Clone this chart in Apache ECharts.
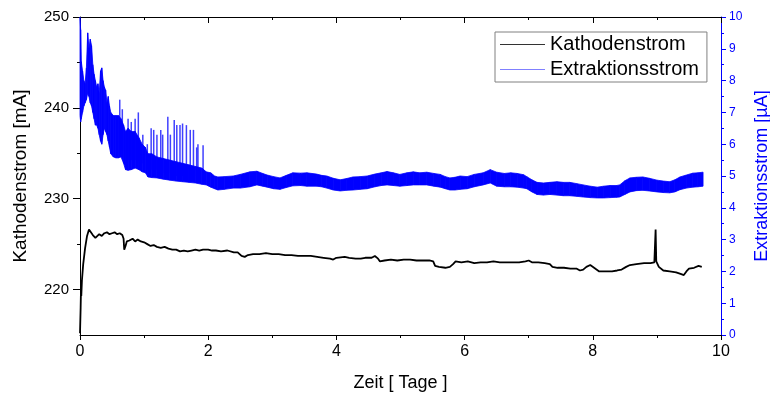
<!DOCTYPE html>
<html>
<head>
<meta charset="utf-8">
<script src="https://cdn.jsdelivr.net/npm/echarts@6/dist/echarts.min.js"></script>
<style>html,body{margin:0;padding:0;background:#fff}#c{width:770px;height:398px}</style>
</head>
<body>
<div id="c"></div>
<script>
// ---- data ----
const xTicks = [0, 2, 4, 6, 8, 10];
const leftTicks = [220, 230, 240, 250];
const leftMinorTicks = [225, 235, 245];

// Kathodenstrom [mA] vs. Zeit [Tage]
const cathT = [0.00,0.01,0.015,0.02,0.03,0.05,0.08,0.11,0.14,0.17,0.20,0.24,0.27,0.30,0.34,0.38,0.42,0.46,0.50,0.54,0.58,0.62,0.66,0.68,0.69,0.71,0.73,0.77,0.82,0.86,0.90,0.95,1.00,1.05,1.10,1.15,1.20,1.26,1.32,1.38,1.44,1.50,1.56,1.62,1.68,1.74,1.80,1.86,1.92,2.00,2.06,2.12,2.20,2.30,2.40,2.46,2.52,2.57,2.62,2.70,2.80,2.90,3.00,3.10,3.20,3.30,3.40,3.50,3.60,3.70,3.80,3.90,3.95,4.00,4.13,4.20,4.30,4.38,4.45,4.55,4.60,4.65,4.68,4.75,4.85,4.95,5.05,5.15,5.25,5.35,5.45,5.51,5.54,5.60,5.70,5.77,5.82,5.86,5.95,6.05,6.15,6.25,6.35,6.45,6.55,6.65,6.75,6.85,6.95,7.00,7.05,7.15,7.25,7.33,7.37,7.45,7.55,7.65,7.75,7.80,7.85,7.90,7.96,8.02,8.10,8.20,8.30,8.38,8.45,8.52,8.58,8.68,8.80,8.90,8.96,8.98,8.99,9.03,9.10,9.20,9.30,9.38,9.42,9.46,9.50,9.58,9.65,9.70];
const cathI = [215.2,218.0,219.8,219.3,221.0,222.8,224.6,225.9,226.6,226.4,226.0,225.7,225.9,226.1,225.9,226.2,226.3,226.1,226.2,226.3,226.1,226.2,226.0,225.6,224.4,224.8,225.3,225.4,225.6,225.3,225.5,225.3,225.2,225.0,224.8,224.9,224.7,224.6,224.7,224.5,224.4,224.4,224.2,224.3,224.2,224.3,224.4,224.3,224.4,224.4,224.3,224.3,224.2,224.3,224.1,224.1,223.7,223.6,223.8,223.9,223.9,224.0,223.9,223.9,223.8,223.8,223.7,223.7,223.7,223.6,223.5,223.4,223.3,223.5,223.6,223.5,223.4,223.4,223.5,223.5,223.7,223.4,223.1,223.2,223.3,223.2,223.3,223.3,223.2,223.2,223.2,223.1,222.6,222.5,222.4,222.5,222.8,223.1,223.0,223.1,222.9,223.0,223.0,223.1,223.0,223.0,223.0,223.0,223.1,223.2,223.0,223.0,222.9,222.8,222.5,222.4,222.4,222.3,222.3,222.1,222.2,222.5,222.7,222.4,222.0,222.0,222.0,222.1,222.2,222.5,222.7,222.8,222.9,222.9,223.0,226.6,223.1,222.5,222.1,222.0,221.9,221.7,221.6,222.0,222.3,222.4,222.6,222.5];

// Extraktionsstrom [µA]: noisy band, upper and lower envelope
const extT  = [0.00,0.01,0.02,0.04,0.06,0.08,0.10,0.12,0.14,0.16,0.18,0.20,0.22,0.24,0.26,0.28,0.30,0.32,0.34,0.36,0.38,0.40,0.42,0.44,0.46,0.48,0.52,0.56,0.60,0.64,0.68,0.71,0.75,0.80,0.86,0.92,0.97,1.02,1.06,1.12,1.20,1.30,1.40,1.50,1.60,1.70,1.80,1.90,1.97,2.04,2.10,2.15,2.25,2.39,2.50,2.65,2.76,2.85,2.92,3.02,3.12,3.22,3.32,3.44,3.54,3.69,3.77,3.85,3.95,4.06,4.16,4.26,4.37,4.48,4.60,4.70,4.79,4.89,4.99,5.10,5.20,5.30,5.41,5.52,5.62,5.70,5.77,5.85,5.93,6.04,6.15,6.29,6.40,6.50,6.62,6.72,6.82,6.92,6.97,7.05,7.13,7.23,7.33,7.44,7.54,7.64,7.75,7.85,7.96,8.07,8.17,8.27,8.37,8.42,8.50,8.58,8.68,8.78,8.88,9.00,9.10,9.20,9.28,9.36,9.46,9.56,9.64,9.72];
const extHi = [10.0,9.6,8.6,8.3,8.0,7.9,8.4,9.5,9.0,9.3,9.1,8.5,8.2,8.0,7.8,7.9,7.6,8.3,8.4,8.0,7.8,7.7,7.3,7.5,7.2,7.0,6.9,6.9,6.9,6.8,6.6,6.4,6.5,6.4,6.4,6.2,6.0,5.9,5.7,5.7,5.6,5.55,5.5,5.45,5.4,5.35,5.3,5.25,5.13,5.1,5.0,4.97,4.98,5.0,5.05,5.13,5.15,5.08,5.03,4.98,4.94,5.02,5.1,5.09,5.1,5.06,5.02,5.0,4.93,4.88,4.92,4.97,4.98,5.0,5.06,5.1,5.14,5.1,5.05,5.1,5.13,5.1,5.12,5.08,5.05,4.98,4.94,4.96,5.0,4.98,5.05,5.1,5.2,5.12,5.08,5.1,5.08,5.04,4.98,4.88,4.8,4.78,4.8,4.82,4.8,4.8,4.76,4.72,4.68,4.65,4.68,4.7,4.7,4.72,4.85,4.94,4.96,4.97,4.93,4.87,4.84,4.82,4.88,4.97,5.03,5.09,5.1,5.12];
const extLo = [6.9,6.7,6.8,7.0,7.2,7.3,7.4,7.6,7.5,7.3,7.2,7.0,6.8,6.6,6.6,6.5,6.3,6.1,6.0,6.3,6.5,6.4,6.3,6.1,5.9,5.7,5.6,5.57,5.57,5.6,5.4,5.2,5.18,5.2,5.25,5.2,5.13,5.1,4.97,4.95,4.94,4.9,4.87,4.84,4.82,4.8,4.78,4.74,4.72,4.65,4.6,4.56,4.58,4.62,4.62,4.66,4.72,4.68,4.65,4.6,4.58,4.64,4.69,4.7,4.68,4.68,4.66,4.62,4.56,4.53,4.55,4.56,4.58,4.6,4.66,4.7,4.72,4.7,4.68,4.7,4.72,4.72,4.72,4.68,4.65,4.6,4.56,4.56,4.58,4.6,4.66,4.72,4.78,4.68,4.66,4.66,4.65,4.62,4.6,4.5,4.42,4.4,4.42,4.4,4.38,4.38,4.36,4.34,4.32,4.31,4.31,4.32,4.33,4.34,4.42,4.5,4.54,4.55,4.53,4.5,4.48,4.47,4.5,4.57,4.62,4.65,4.66,4.68];

// Extraktionsstrom spikes (time, bottom, top)
const spikeT   = [0.62,0.66,0.75,0.80,0.86,0.91,0.98,1.05,1.11,1.15,1.20,1.26,1.29,1.37,1.41,1.47,1.51,1.56,1.60,1.66,1.72,1.77,1.82,1.84,1.92];
const spikeLo  = [5.8,5.8,5.5,5.5,5.5,5.5,5.4,5.2,5.2,5.2,5.2,5.1,5.1,5.1,5.1,5.1,5.0,5.0,5.0,5.0,5.0,5.0,5.0,5.0,5.0];
const spikeTop = [7.4,7.1,6.8,6.7,6.8,7.0,6.3,6.0,6.5,6.45,6.3,6.45,6.3,6.86,6.3,6.76,6.6,6.6,6.65,6.6,6.45,6.45,5.9,6.0,5.97];

// ---- build ----
const FONT = 'Liberation Sans, Arial, sans-serif';
const cathData = cathT.map((t, i) => [t, cathI[i]]);
// band segments: [t0, hi0, lo0, t1, hi1, lo1]
const bandData = [];
for (let i = 0; i < extT.length - 1; i++) {
  bandData.push([extT[i], extHi[i], extLo[i], extT[i + 1], extHi[i + 1], extLo[i + 1]]);
}
const spikeData = spikeT.map((t, i) => [t, spikeLo[i], spikeTop[i]]);

const chart = echarts.init(document.getElementById('c'), null, {renderer: 'canvas'});
const blk = '#000000', blue = '#0000ff';
chart.setOption({
  animation: false,
  backgroundColor: '#ffffff',
  textStyle: {fontFamily: FONT},
  grid: {left: 80, right: 49, top: 17, bottom: 63, containLabel: false, outerBoundsMode: 'none'},
  legend: {
    left: 495, top: 32, orient: 'vertical',
    itemWidth: 45, itemHeight: 1, itemGap: 2,
    padding: [1, 8, 1, 5],
    borderColor: '#808080', borderWidth: 1, backgroundColor: '#ffffff',
    textStyle: {fontSize: 20, color: '#000', fontFamily: FONT, lineHeight: 23},
    data: [
      {name: 'Kathodenstrom', icon: 'rect', itemStyle: {color: '#333333'}},
      {name: 'Extraktionsstrom', icon: 'rect', itemStyle: {color: '#8080ff'}}
    ]
  },
  xAxis: [
    {
      type: 'value', position: 'bottom', min: 0, max: 10, interval: 2,
      axisLine: {show: true, onZero: false, lineStyle: {color: blk, width: 1}},
      axisTick: {show: true, inside: false, length: 5, lineStyle: {color: blk}},
      minorTick: {show: true, splitNumber: 2, length: 3, lineStyle: {color: blk}},
      splitLine: {show: false}, minorSplitLine: {show: false},
      axisLabel: {fontSize: 16, color: blk, margin: 9, fontFamily: FONT, customValues: xTicks},
      name: 'Zeit [ Tage ]', nameLocation: 'middle', nameGap: 39,
      nameTextStyle: {fontSize: 18, color: blk, fontFamily: FONT}
    },
    {
      type: 'value', position: 'top', min: 0, max: 10, interval: 2,
      axisLine: {show: true, onZero: false, lineStyle: {color: blk, width: 1}},
      axisTick: {show: true, inside: true, length: 6, lineStyle: {color: blk}},
      minorTick: {show: true, splitNumber: 2, length: 3, lineStyle: {color: blk}},
      splitLine: {show: false}, axisLabel: {show: false}
    }
  ],
  yAxis: [
    {
      type: 'value', position: 'left', min: 215, max: 250,
      axisLine: {show: true, onZero: false, lineStyle: {color: blk, width: 1}},
      axisTick: {show: true, inside: false, length: 7, customValues: leftTicks, lineStyle: {color: blk}},
      axisLabel: {fontSize: 15, color: blk, margin: 11, fontFamily: FONT, customValues: leftTicks},
      splitLine: {show: false},
      name: 'Kathodenstrom [mA]', nameLocation: 'middle', nameGap: 50, nameRotate: 90,
      nameTextStyle: {fontSize: 19, color: blk, fontFamily: FONT}
    },
    {
      type: 'value', position: 'right', min: 0, max: 10, interval: 1,
      axisLine: {show: true, onZero: false, lineStyle: {color: blue, width: 1}},
      axisTick: {show: true, inside: false, length: 5, lineStyle: {color: blue}},
      minorTick: {show: true, splitNumber: 2, length: 3, lineStyle: {color: blue}},
      splitLine: {show: false}, minorSplitLine: {show: false},
      axisLabel: {fontSize: 12, color: blue, margin: 8, fontFamily: FONT},
      name: 'Extraktionsstrom [µA]', nameLocation: 'middle', nameGap: 32, nameRotate: 90,
      nameTextStyle: {fontSize: 18, color: blue, fontFamily: FONT}
    },
    {
      type: 'value', position: 'left', min: 215, max: 250,
      axisLine: {show: false},
      axisTick: {show: true, inside: false, length: 3, customValues: leftMinorTicks, lineStyle: {color: blk}},
      axisLabel: {show: false}, splitLine: {show: false}
    }
  ],
  series: [
    {
      name: 'Extraktionsstrom', type: 'custom', xAxisIndex: 0, yAxisIndex: 1,
      data: bandData, encode: {x: [0, 3], y: [1, 2, 4, 5]}, z: 3,
      itemStyle: {color: blue},
      renderItem: function (params, api) {
        const a = api.coord([api.value(0), api.value(1)]);
        const b = api.coord([api.value(3), api.value(4)]);
        const c = api.coord([api.value(3), api.value(5)]);
        const d = api.coord([api.value(0), api.value(2)]);
        return {type: 'polygon', shape: {points: [a, b, c, d]},
                style: {fill: blue, stroke: blue, lineWidth: 0.8}};
      }
    },
    {
      name: 'ExtSpikes', type: 'custom', xAxisIndex: 0, yAxisIndex: 1,
      data: spikeData, encode: {x: 0, y: [1, 2]}, z: 4,
      renderItem: function (params, api) {
        const p0 = api.coord([api.value(0), api.value(1)]);
        const p1 = api.coord([api.value(0), api.value(2)]);
        return {type: 'line', shape: {x1: p0[0], y1: p0[1], x2: p1[0], y2: p1[1]},
                style: {stroke: 'rgba(0,0,255,0.75)', lineWidth: 1.5}};
      }
    },
    {
      name: 'Kathodenstrom', type: 'line', xAxisIndex: 0, yAxisIndex: 0,
      data: cathData, showSymbol: false, symbol: 'none',
      itemStyle: {color: blk},
      lineStyle: {color: blk, width: 1.8}, z: 5
    }
  ]
});
</script>
</body>
</html>
